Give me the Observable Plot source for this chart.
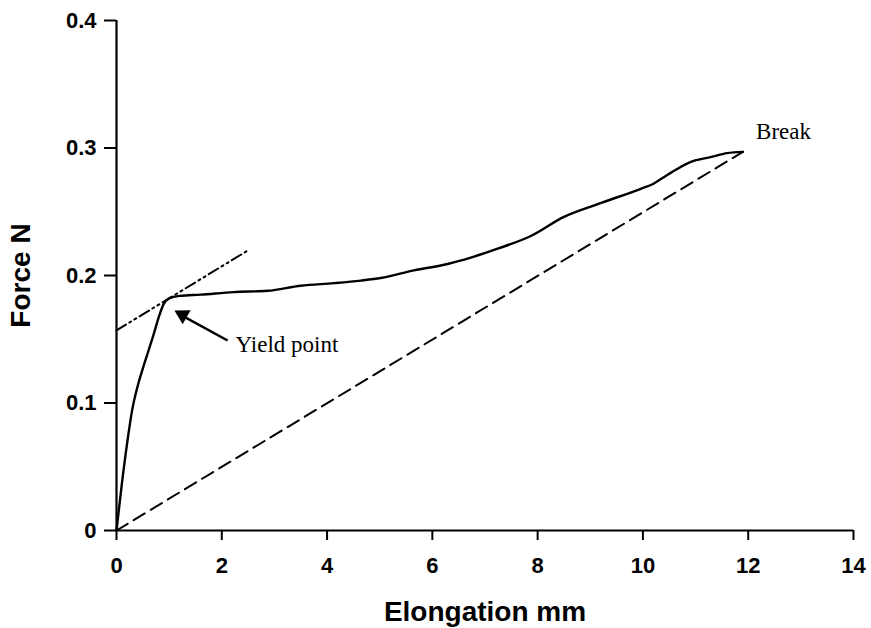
<!DOCTYPE html>
<html><head><meta charset="utf-8">
<script src="https://cdn.jsdelivr.net/npm/d3@7"></script>
<script src="https://cdn.jsdelivr.net/npm/@observablehq/plot@0.6"></script>
<style>body{margin:0;background:#fff}</style>
</head><body><div id="chart"></div>
<script>
// Force–elongation curve
const elongation = [0, 0.1, 0.2, 0.3, 0.4, 0.5, 0.6, 0.7, 0.8, 0.9, 1.0, 1.2, 1.6, 2.22, 2.87, 3.5, 4.13, 4.64, 5.02, 5.65, 6.29, 6.73, 7.24, 7.87, 8.5, 9.14, 9.96, 10.2, 10.47, 10.9, 11.3, 11.6, 11.9];
const force      = [0, 0.036, 0.068, 0.095, 0.113, 0.127, 0.140, 0.153, 0.167, 0.178, 0.182, 0.184, 0.185, 0.187, 0.188, 0.192, 0.194, 0.196, 0.198, 0.204, 0.209, 0.214, 0.221, 0.231, 0.246, 0.256, 0.268, 0.272, 0.279, 0.289, 0.293, 0.296, 0.297];
// Secant (dashed) from origin to break
const secantX = [0, 11.9];
const secantY = [0, 0.297];
// Tangent (dash-dot-dot) through the yield point
const tangentX = [0, 2.51];
const tangentY = [0.157, 0.22];
// Annotations
const annLabels = ["Yield point", "Break"];
const annX = [2.26, 12.15];
const annY = [0.1454, 0.3125];
// Arrow: shaft from tail to tip, filled head centred just behind the tip
const arrowX1 = [2.11], arrowY1 = [0.149], arrowX2 = [1.16], arrowY2 = [0.1705];
const headX = [1.255], headY = [0.169], headAngle = [-60.5];
// Axes
const xTicks = [0, 2, 4, 6, 8, 10, 12, 14];
const yTicks = [0, 0.1, 0.2, 0.3, 0.4];
const xLabel = "Elongation mm";
const yLabel = "Force N";

const curve = elongation.map((x, i) => ({x, y: force[i]}));
const secant = secantX.map((x, i) => ({x, y: secantY[i]}));
const tangent = tangentX.map((x, i) => ({x, y: tangentY[i]}));
const ann = annLabels.map((t, i) => ({t, x: annX[i], y: annY[i]}));
const arrows = arrowX1.map((x1, i) => ({x1, y1: arrowY1[i], x2: arrowX2[i], y2: arrowY2[i]}));
const heads = headX.map((x, i) => ({x, y: headY[i], a: headAngle[i]}));

const chart = Plot.plot({
  width: 871, height: 628,
  marginLeft: 116, marginRight: 18, marginTop: 20, marginBottom: 98,
  style: {fontFamily: "'Liberation Sans', Arial, sans-serif", background: "#fff", color: "#000"},
  x: {domain: [0, 14]},
  y: {domain: [0, 0.4]},
  marks: [
    Plot.axisX({ticks: xTicks, tickSize: 10, tickPadding: 17, fontSize: 22, fontWeight: "bold", label: null, strokeWidth: 2, tickFormat: d => String(d)}),
    Plot.axisY({ticks: yTicks, tickSize: 12, tickPadding: 8, fontSize: 22, fontWeight: "bold", label: null, strokeWidth: 2, tickFormat: d => String(d)}),
    Plot.ruleX([0], {strokeWidth: 2.2}),
    Plot.ruleY([0], {strokeWidth: 2.2}),
    Plot.line(secant, {x: "x", y: "y", strokeWidth: 2, strokeDasharray: "13,7"}),
    Plot.line(tangent, {x: "x", y: "y", strokeWidth: 2, strokeDasharray: "11,4,2,4,2,4"}),
    Plot.line(curve, {x: "x", y: "y", strokeWidth: 2.4, curve: "monotone-x"}),
    Plot.link(arrows, {x1: "x1", y1: "y1", x2: "x2", y2: "y2", strokeWidth: 2.5}),
    Plot.dot(heads, {x: "x", y: "y", rotate: "a", symbol: "triangle", r: 6, fill: "#000", stroke: "none"}),
    Plot.text(ann, {x: "x", y: "y", text: "t", textAnchor: "start", fontSize: 23, fontFamily: "'Liberation Serif', 'Times New Roman', serif", lineAnchor: "middle"}),
    Plot.text([xLabel], {frameAnchor: "bottom", dy: 82, fontSize: 28, fontWeight: "bold", textAnchor: "middle", lineAnchor: "middle"}),
    Plot.text([yLabel], {frameAnchor: "left", dx: -95, rotate: -90, fontSize: 28, fontWeight: "bold", textAnchor: "middle", lineAnchor: "middle"})
  ]
});
document.getElementById("chart").appendChild(chart);
</script>
</body></html>
